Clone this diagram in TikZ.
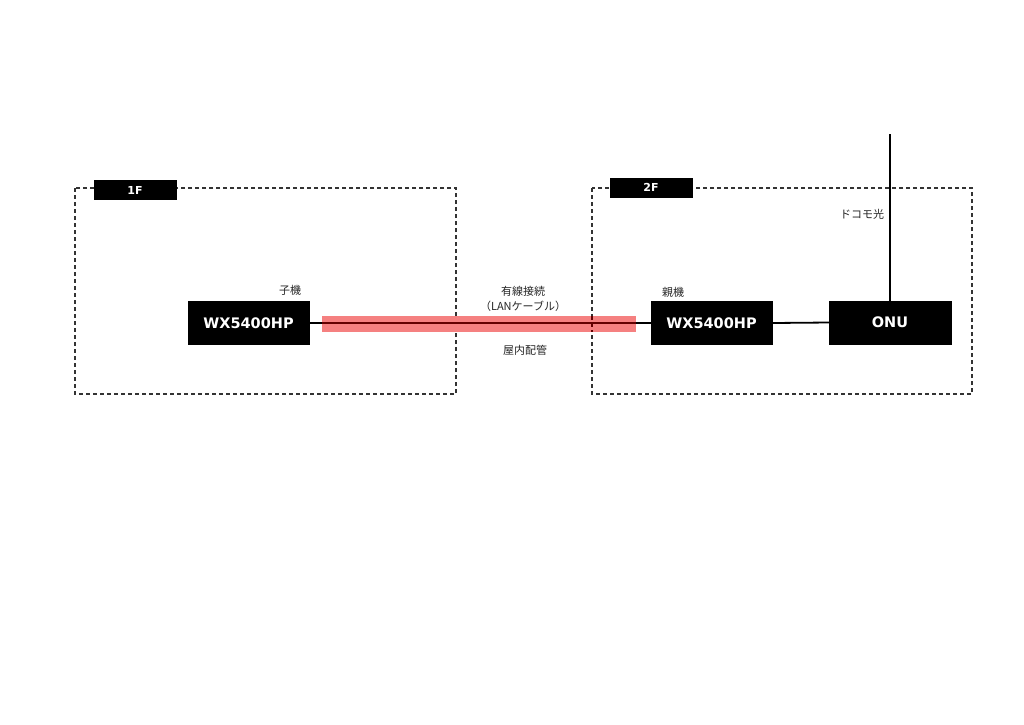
\documentclass[tikz,border=0pt]{standalone}
\usepackage{fontspec}
\setmainfont{DejaVu Sans}
\newfontfamily\jpfont{Noto Sans CJK JP}
\definecolor{bandred}{RGB}{245,128,128}
\definecolor{bandline}{RGB}{100,0,0}
\begin{document}
\begin{tikzpicture}[x=1pt,y=-1pt,
  devbox/.style={draw=black,fill=black,text=white,inner sep=0pt,font=\fontsize{14.5}{17}\selectfont\bfseries,minimum width=121pt,minimum height=43pt},
  floorlbl/.style={draw=black,fill=black,text=white,inner sep=0pt,font=\fontsize{11}{13}\selectfont\bfseries,minimum width=82pt,minimum height=19pt},
  frame/.style={draw=black!80,line width=1.2pt,dash pattern=on 4pt off 3pt},
  jtext/.style={font=\jpfont\fontsize{11}{13}\selectfont,inner sep=0pt,text=black!85},
  wire/.style={draw=black,line width=1.8pt}]
\useasboundingbox (0,0) rectangle (1024,724);
\fill[white] (0,0) rectangle (1024,724);
% frames
\draw[frame] (75,188) rectangle (456,394);
\draw[frame] (592,188) rectangle (972,394);
\node[floorlbl] (f1) at (135,190) {1F};
\node[floorlbl] (f2) at (651,187.5) {2F};
% devices
\node[devbox] (child) at (248.5,323) {WX5400HP};
\node[devbox] (parent) at (711.5,323) {WX5400HP};
\node[devbox,minimum width=122pt] (onu) at (890,322.5) {ONU};
\coordinate (top) at (890,134);
\coordinate (bandL) at (322,323);
\coordinate (bandR) at (636,323);
\coordinate (fT) at (592,316);
\coordinate (fB) at (592,332);
% wires
\draw[wire] (child.east) -- (parent.west);
\draw[wire] (parent.east) -- (onu.west);
\draw[wire] (top) -- (onu.north);
% cable band (translucent look)
\fill[bandred] (322,316) rectangle (636,332);
\draw[line width=2.2pt,draw=bandline] (bandL) -- (bandR);
\draw[line width=1.2pt,draw=bandline,dash pattern=on 4pt off 3pt] (fT) -- (fB);
% labels
\node[jtext] (l1) at (290,290) {子機};
\node[jtext] (l2) at (673,292) {親機};
\node[jtext] (l3) at (523,291) {有線接続};
\node[jtext] (l4) at (523,306) {（LANケーブル）};
\node[jtext] (l5) at (525,350) {屋内配管};
\node[jtext] (l6) at (862,214) {ドコモ光};
\end{tikzpicture}
\end{document}
